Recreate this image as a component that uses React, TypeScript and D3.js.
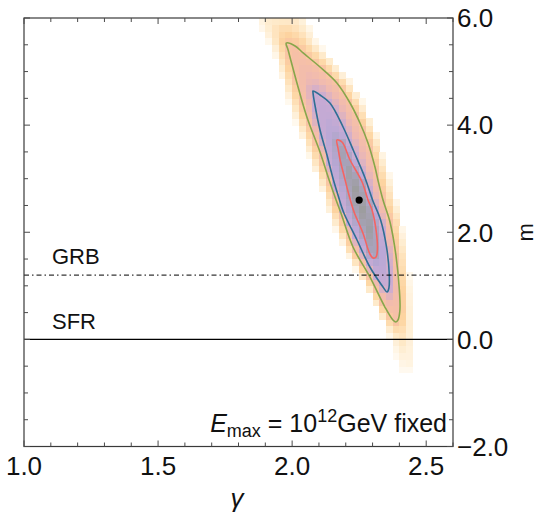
import React, { useMemo } from "react";
import * as d3 from "d3";

const WIDTH = 539;
const HEIGHT = 517;
const PLOT = { left: 24, right: 453, top: 18, bottom: 446.5 };

const gammaDomain: [number, number] = [1.0, 2.6];
const mDomain: [number, number] = [-2, 6];
const gammaTickLabels = [1.0, 1.5, 2.0, 2.5];
const mTickLabels = [-2, 0, 2, 4, 6];
const gammaMinorStep = 0.1;
const mMinorStep = 0.5;
const gammaMajorStep = 0.5;
const mMajorStep = 2;

const bestFit: [number, number] = [2.25, 2.6];
const grbLevel = 1.2;
const sfrLevel = 0.0;

// density raster cell size (gamma, m)
const cellSize: [number, number] = [0.025, 0.125];

// innermost contour (red)
const contourInner: [number, number][] = [
  [2.167, 3.722], [2.186, 3.685], [2.216, 3.349], [2.261, 2.938], [2.283, 2.602],
  [2.298, 2.415], [2.313, 2.042], [2.318, 1.669], [2.313, 1.538], [2.302, 1.519],
  [2.29, 1.594], [2.264, 1.986], [2.231, 2.378], [2.212, 2.695], [2.193, 3.069],
  [2.179, 3.349], [2.171, 3.573],
];

// middle contour (blue)
const contourMiddle: [number, number][] = [
  [2.078, 4.637], [2.104, 4.562], [2.141, 4.413], [2.19, 3.965], [2.231, 3.498],
  [2.272, 3.013], [2.3, 2.602], [2.33, 2.229], [2.352, 1.725], [2.362, 1.239],
  [2.361, 0.959], [2.354, 0.884], [2.339, 0.978], [2.29, 1.351], [2.242, 1.855],
  [2.193, 2.359], [2.171, 2.695], [2.152, 3.013], [2.13, 3.442], [2.104, 3.909],
  [2.085, 4.376], [2.078, 4.6],
];

// outer contour (green)
const contourOuter: [number, number][] = [
  [1.978, 5.53], [2.011, 5.477], [2.041, 5.347], [2.104, 5.085], [2.167, 4.787],
  [2.216, 4.413], [2.253, 4.04], [2.283, 3.666], [2.309, 3.218], [2.32, 2.976],
  [2.339, 2.602], [2.365, 2.191], [2.387, 1.575], [2.4, 0.922], [2.402, 0.548],
  [2.395, 0.362], [2.387, 0.324], [2.376, 0.362], [2.346, 0.604], [2.29, 1.165],
  [2.227, 1.725], [2.182, 2.359], [2.164, 2.602], [2.138, 2.976], [2.104, 3.498],
  [2.055, 4.152], [2.018, 4.787], [1.985, 5.403],
];

// outer edge of the shaded likelihood region
const densityEdge: [number, number][] = [
  [2.045, 6.15], [2.055, 6.0], [2.09, 5.589], [2.152, 5.216], [2.21, 4.88],
  [2.263, 4.469], [2.3, 4.04], [2.33, 3.666], [2.356, 3.218], [2.371, 2.976],
  [2.389, 2.602], [2.412, 2.191], [2.432, 1.575], [2.443, 0.922], [2.447, 0.455],
  [2.458, -0.012], [2.462, -0.385], [2.455, -0.572], [2.406, -0.572], [2.391, -0.385],
  [2.369, -0.068], [2.339, 0.306], [2.302, 0.679], [2.253, 1.165], [2.19, 1.725],
  [2.134, 2.359], [2.108, 2.789], [2.074, 3.256], [2.036, 3.722], [1.996, 4.283],
  [1.965, 4.787], [1.928, 5.403], [1.885, 5.776], [1.845, 6.15],
];

const colorStops = [0, 0.7, 1.4, 2, 2.5, 3, 3.5, 4, 5];
const colorValues = [
  "#fffaf0", "#fee8c6", "#fdd4a0", "#f8c2a4", "#efb9b1",
  "#c9abd3", "#b9a8d6", "#aaa4bf", "#9d9d9f",
];

const FONT = "'Liberation Sans', Arial, Helvetica, sans-serif";

type P = [number, number];

function distToPoly(p: P, poly: P[]): number {
  let best = Infinity;
  for (let i = 0; i < poly.length; i++) {
    const a = poly[i];
    const b = poly[(i + 1) % poly.length];
    const dx = b[0] - a[0];
    const dy = b[1] - a[1];
    const len2 = dx * dx + dy * dy;
    let t = len2 > 0 ? ((p[0] - a[0]) * dx + (p[1] - a[1]) * dy) / len2 : 0;
    t = Math.max(0, Math.min(1, t));
    const qx = a[0] + t * dx - p[0];
    const qy = a[1] + t * dy - p[1];
    const d = Math.sqrt(qx * qx + qy * qy);
    if (d < best) best = d;
  }
  return best;
}

export default function App() {
  const x = d3.scaleLinear().domain(gammaDomain).range([PLOT.left, PLOT.right]);
  const y = d3.scaleLinear().domain(mDomain).range([PLOT.bottom, PLOT.top]);
  const color = d3
    .scaleLinear<string>()
    .domain(colorStops)
    .range(colorValues)
    .interpolate(d3.interpolateRgb)
    .clamp(true);

  const toPx = (pts: [number, number][]): P[] => pts.map(([g, m]) => [x(g), y(m)] as P);

  const cells = useMemo(() => {
    const edge = toPx(densityEdge);
    const outer = toPx(contourOuter);
    const mid = toPx(contourMiddle);
    const inner = toPx(contourInner);
    const out: { g: number; m: number; c: string }[] = [];
    const nG = Math.round((gammaDomain[1] - gammaDomain[0]) / cellSize[0]);
    const nM = Math.round((mDomain[1] - mDomain[0]) / cellSize[1]) + 2;
    for (let i = 0; i < nG; i++) {
      for (let j = 0; j < nM; j++) {
        const g = gammaDomain[0] + i * cellSize[0];
        const m = mDomain[0] + j * cellSize[1];
        const c: P = [x(g + cellSize[0] / 2), y(m + cellSize[1] / 2)];
        if (!d3.polygonContains(edge, c)) continue;
        let t: number;
        if (d3.polygonContains(inner, c)) {
          t = 4 + Math.min(distToPoly(c, inner) / 8, 1);
        } else if (d3.polygonContains(mid, c)) {
          const a = distToPoly(c, mid);
          const b = distToPoly(c, inner);
          t = 3 + a / (a + b);
        } else if (d3.polygonContains(outer, c)) {
          const a = distToPoly(c, outer);
          const b = distToPoly(c, mid);
          t = 2 + a / (a + b);
        } else {
          const a = distToPoly(c, edge);
          const b = distToPoly(c, outer);
          t = (2 * a) / (a + b);
        }
        out.push({ g, m, c: color(t) });
      }
    }
    return out;
  }, []);

  const line = d3
    .line<[number, number]>()
    .x((d) => x(d[0]))
    .y((d) => y(d[1]))
    .curve(d3.curveCatmullRomClosed.alpha(0.5));

  const gammaTicks = d3.range(gammaDomain[0], gammaDomain[1] + 1e-9, gammaMinorStep);
  const mTicks = d3.range(mDomain[0], mDomain[1] + 1e-9, mMinorStep);
  const isMajor = (v: number, step: number) =>
    Math.abs(v / step - Math.round(v / step)) < 1e-6;

  const tickColor = "#4a4a4a";
  const majorLen = 6;
  const minorLen = 4;

  return (
    <svg
      width={WIDTH}
      height={HEIGHT}
      style={{ position: "absolute", left: 0, top: 0, background: "#fff" }}
      fontFamily={FONT}
    >
      <defs>
        <clipPath id="plotClip">
          <rect
            x={PLOT.left}
            y={PLOT.top}
            width={PLOT.right - PLOT.left}
            height={PLOT.bottom - PLOT.top}
          />
        </clipPath>
      </defs>

      <g clipPath="url(#plotClip)">
        {cells.map((d, i) => (
          <rect
            key={i}
            x={x(d.g)}
            y={y(d.m + cellSize[1])}
            width={x(d.g + cellSize[0]) - x(d.g) + 0.4}
            height={y(d.m) - y(d.m + cellSize[1]) + 0.4}
            fill={d.c}
            shapeRendering="crispEdges"
          />
        ))}
        <path d={line(contourOuter) || ""} fill="none" stroke="#87a64b" strokeWidth={1.6} />
        <path d={line(contourMiddle) || ""} fill="none" stroke="#2f6f93" strokeWidth={1.6} />
        <path d={line(contourInner) || ""} fill="none" stroke="#f46462" strokeWidth={1.6} />
      </g>

      {/* reference lines */}
      <line
        x1={PLOT.left}
        x2={PLOT.right}
        y1={y(grbLevel)}
        y2={y(grbLevel)}
        stroke="#000"
        strokeWidth={1}
        strokeDasharray="5,3,1.5,3"
      />
      <line
        x1={PLOT.left}
        x2={PLOT.right}
        y1={y(sfrLevel)}
        y2={y(sfrLevel)}
        stroke="#000"
        strokeWidth={1.2}
      />
      <text x={52} y={y(grbLevel) - 11} fontSize={22} fill="#111">
        GRB
      </text>
      <text x={52} y={y(sfrLevel) - 10} fontSize={22} fill="#111">
        SFR
      </text>

      {/* best fit */}
      <circle cx={x(bestFit[0])} cy={y(bestFit[1])} r={3.6} fill="#000" />

      {/* frame */}
      <rect
        x={PLOT.left}
        y={PLOT.top}
        width={PLOT.right - PLOT.left}
        height={PLOT.bottom - PLOT.top}
        fill="none"
        stroke="#3a3a3a"
        strokeWidth={1.2}
      />

      {/* ticks */}
      {gammaTicks.map((v, i) => {
        const len = isMajor(v, gammaMajorStep) ? majorLen : minorLen;
        const xx = x(v);
        return (
          <g key={"gt" + i} stroke={tickColor} strokeWidth={1}>
            <line x1={xx} x2={xx} y1={PLOT.bottom} y2={PLOT.bottom - len} />
            <line x1={xx} x2={xx} y1={PLOT.top} y2={PLOT.top + len} />
          </g>
        );
      })}
      {mTicks.map((v, i) => {
        const len = isMajor(v, mMajorStep) ? majorLen : minorLen;
        const yy = y(v);
        return (
          <g key={"mt" + i} stroke={tickColor} strokeWidth={1}>
            <line x1={PLOT.left} x2={PLOT.left + len} y1={yy} y2={yy} />
            <line x1={PLOT.right} x2={PLOT.right - len} y1={yy} y2={yy} />
          </g>
        );
      })}

      {/* tick labels */}
      {gammaTickLabels.map((v) => (
        <text key={"gl" + v} x={x(v)} y={475} fontSize={26} textAnchor="middle" fill="#111">
          {v.toFixed(1)}
        </text>
      ))}
      {mTickLabels.map((v) => (
        <text
          key={"ml" + v}
          x={PLOT.right + 4}
          y={y(v)}
          dy="0.36em"
          fontSize={26}
          textAnchor="start"
          fill="#111"
        >
          {v < 0 ? "\u2212" + Math.abs(v).toFixed(1) : v.toFixed(1)}
        </text>
      ))}

      {/* axis titles */}
      <text x={237} y={507} fontSize={26} fontStyle="italic" textAnchor="middle" fill="#111">
        γ
      </text>
      <text
        transform={`translate(533, ${(PLOT.top + PLOT.bottom) / 2}) rotate(-90)`}
        fontSize={22}
        textAnchor="middle"
        fill="#111"
      >
        m
      </text>

      {/* annotation */}
      <text x={447} y={432} fontSize={25} textAnchor="end" fill="#111">
        <tspan fontStyle="italic">E</tspan>
        <tspan fontSize={18} dy={5}>
          max
        </tspan>
        <tspan dy={-5}> = 10</tspan>
        <tspan fontSize={18} dy={-10}>
          12
        </tspan>
        <tspan dy={10}>GeV fixed</tspan>
      </text>
    </svg>
  );
}
